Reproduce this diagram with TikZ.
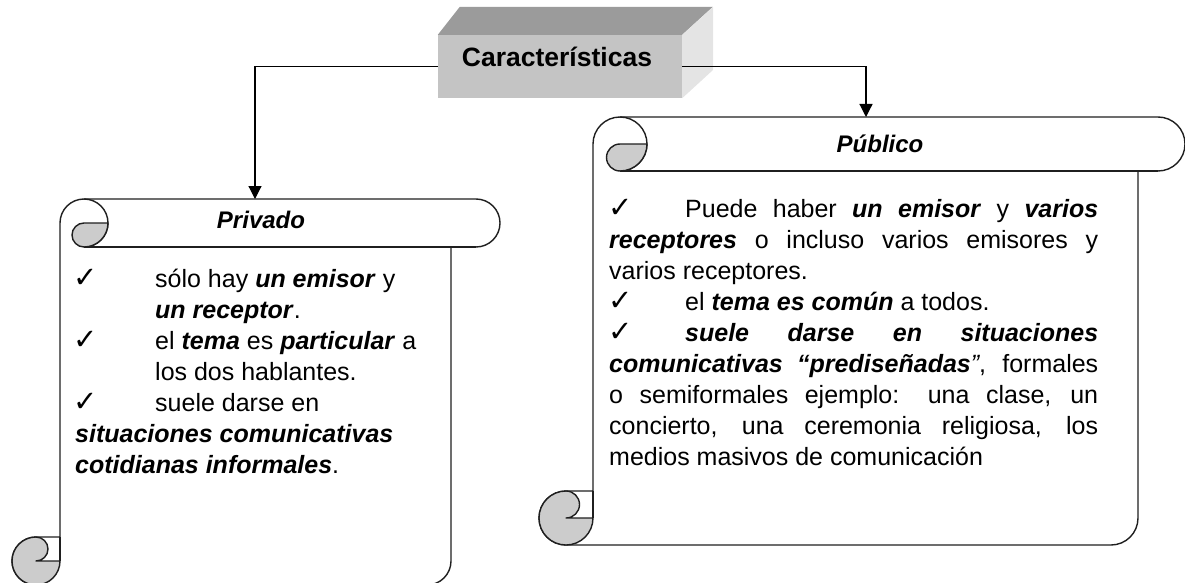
\documentclass[tikz,border=0pt]{standalone}
\usepackage{fontspec}
\setmainfont{Liberation Sans}
\newfontfamily\symfont{DejaVu Sans}
\usetikzlibrary{arrows.meta}
\newcommand{\bi}[1]{\textbf{\textit{#1}}}
\newcommand{\chk}{{\symfont\fontsize{29}{30}\selectfont ✓}}
\definecolor{curlgray}{RGB}{204,204,204}
\definecolor{topgray}{RGB}{155,155,155}
\definecolor{frontgray}{RGB}{196,196,196}
\definecolor{sidegray}{RGB}{228,228,228}
\begin{document}
\begin{tikzpicture}[x=1pt,y=1pt,
  sc/.style={line width=1.4pt, draw=black!88, line join=round},
  curl/.style={sc, fill=curlgray},
  txt/.style={anchor=base west, inner sep=0pt, font=\fontsize{25}{31}\selectfont},
  ttl/.style={anchor=base, inner sep=0pt, font=\fontsize{24}{28}\selectfont\bfseries\itshape},
  conn/.style={line width=1.2pt, draw=black, -{Triangle[width=13pt,length=13pt]}}]
\useasboundingbox (0,0) rectangle (1185,-583);

% ---------- 3D box ----------
\node[draw=none, fill=frontgray, minimum width=244pt, minimum height=63pt, inner sep=0pt] (char) at (560,-66.5) {};
\fill[topgray] (char.north west) -- ++(22,28) -- ++(253,0) -- (char.north east) -- cycle;
\fill[sidegray] (char.north east) -- ++(31,28) -- ++(0,-63) -- (char.south east) -- cycle;
\node[anchor=base, inner sep=0pt, font=\fontsize{26.5}{30}\selectfont\bfseries] (charlbl) at (557,-67) {Características};

% ---------- Left scroll (Privado) ----------
\draw[sc, fill=white] (84,-199) -- (476,-199) arc[start angle=90,end angle=-90,radius=24]
  -- (451,-247) -- (451,-561) arc[start angle=0,end angle=-90,radius=24]
  -- (36,-585) arc[start angle=-90,end angle=-270,radius=24]
  -- (60,-537) -- (60,-223) arc[start angle=180,end angle=90,radius=24] -- cycle;
\draw[sc] (84,-247) -- (476,-247);
\draw[sc] (84,-199) arc[start angle=90,end angle=-90,radius=24];
\draw[curl] (84,-223) -- (108,-223) arc[start angle=0,end angle=-90,radius=24]
  arc[start angle=-90,end angle=-270,radius=12] -- cycle;
\draw[curl] (36,-537) arc[start angle=90,end angle=360,radius=24] -- (36,-561)
  arc[start angle=-90,end angle=90,radius=12] -- cycle;
\draw[sc] (60,-537) -- (60,-561);
\coordinate (privTop) at (255,-199);

% ---------- Right scroll (Publico) ----------
\draw[sc, fill=white] (620,-117) -- (1158,-117) arc[start angle=90,end angle=-90,radius=27]
  -- (1138,-171) -- (1138,-518) arc[start angle=0,end angle=-90,radius=27]
  -- (566,-545) arc[start angle=-90,end angle=-270,radius=27]
  -- (593,-491) -- (593,-144) arc[start angle=180,end angle=90,radius=27] -- cycle;
\draw[sc] (620,-171) -- (1158,-171);
\draw[sc] (620,-117) arc[start angle=90,end angle=-90,radius=27];
\draw[curl] (620,-144) -- (647,-144) arc[start angle=0,end angle=-90,radius=27]
  arc[start angle=-90,end angle=-270,radius=13.5] -- cycle;
\draw[curl] (566,-491) arc[start angle=90,end angle=360,radius=27] -- (566,-518)
  arc[start angle=-90,end angle=90,radius=13.5] -- cycle;
\draw[sc] (593,-491) -- (593,-518);
\coordinate (pubTop) at (866,-117);

% ---------- connectors ----------
\draw[conn] (char.west) -| (privTop);
\draw[conn] (char.east) -| (pubTop);

% ---------- titles ----------
\node[ttl] (tpriv) at (261,-228) {Privado};
\node[ttl] (tpub) at (880,-152) {Público};

% ---------- left text ----------
\node[txt] (lc1) at (73,-287) {\chk};
\node[txt] (l1) at (155,-287) {sólo hay \bi{un emisor} y};
\node[txt] (l2) at (155,-318) {\bi{un receptor}.};
\node[txt] (lc2) at (73,-349) {\chk};
\node[txt] (l3) at (155,-349) {el \bi{tema} es \bi{particular} a};
\node[txt] (l4) at (155,-380) {los dos hablantes.};
\node[txt] (lc3) at (73,-411) {\chk};
\node[txt] (l5) at (155,-411) {suele darse en};
\node[txt] (l6) at (75,-442) {\bi{situaciones comunicativas}};
\node[txt] (l7) at (75,-473) {\bi{cotidianas informales}.};

% ---------- right text ----------
\node[txt] (rc1) at (608,-217) {\chk};
\node[txt] (r1) at (685,-217) {\makebox[413pt][s]{Puede haber \bi{un emisor} y \bi{varios}}};
\node[txt] (r2) at (609,-248) {\makebox[489pt][s]{\bi{receptores} o incluso varios emisores y}};
\node[txt] (r3) at (609,-279) {varios receptores.};
\node[txt] (rc2) at (608,-310) {\chk};
\node[txt] (r4) at (685,-310) {el \bi{tema es común} a todos.};
\node[txt] (rc3) at (608,-341) {\chk};
\node[txt] (r5) at (685,-341) {\makebox[413pt][s]{\bi{suele darse en situaciones}}};
\node[txt] (r6) at (609,-372) {\makebox[489pt][s]{\bi{comunicativas “prediseñadas}\textit{”}, formales}};
\node[txt] (r7) at (609,-403) {\makebox[489pt][s]{o semiformales ejemplo: una clase, un}};
\node[txt] (r8) at (609,-434) {\makebox[489pt][s]{concierto, una ceremonia religiosa, los}};
\node[txt] (r9) at (609,-465) {medios masivos de comunicación};
\end{tikzpicture}
\end{document}
